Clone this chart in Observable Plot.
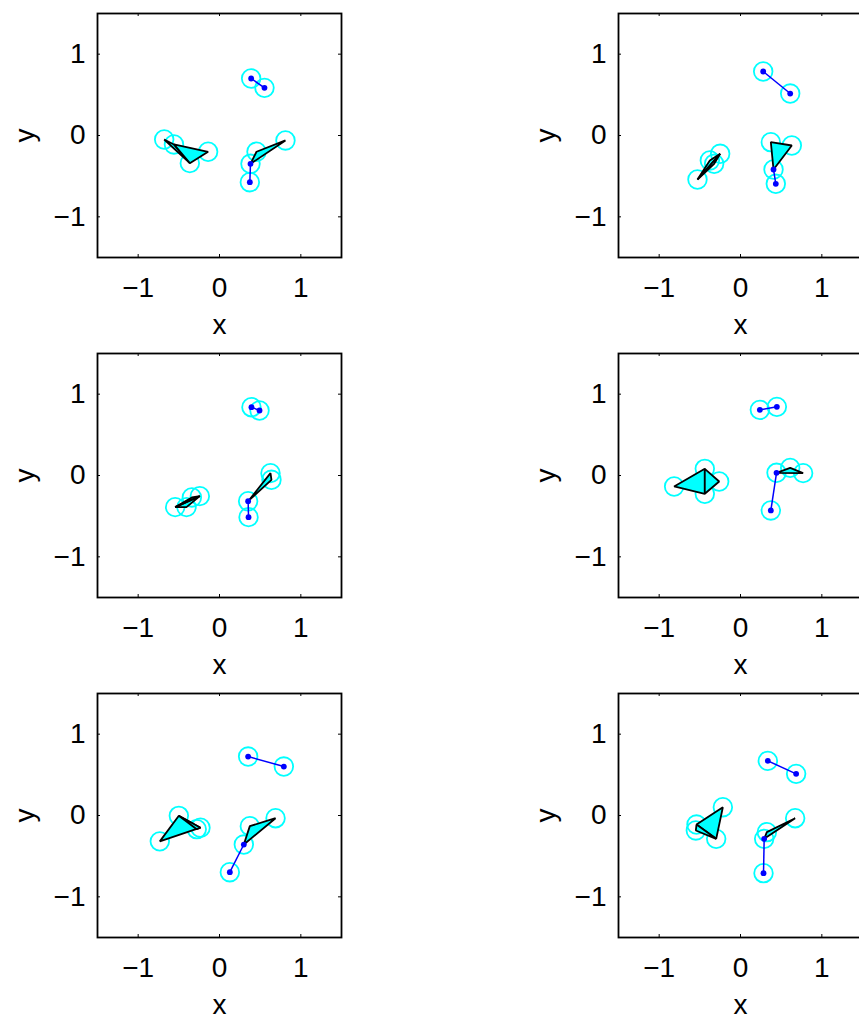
<!DOCTYPE html>
<html><head><meta charset="utf-8">
<script src="https://cdn.jsdelivr.net/npm/d3@7"></script>
<script src="https://cdn.jsdelivr.net/npm/@observablehq/plot@0.6"></script>
<style>
html,body{margin:0;padding:0;overflow:hidden;background:#fff;width:859px;height:1015px}
#root{position:relative;width:859px;height:1015px;overflow:hidden;background:#fff}
.panel{position:absolute}
.panel svg{max-width:none !important;display:block}
</style></head><body><div id="root"></div>
<script>
// ---- data ----
const panels = [1, 2, 3, 4, 5, 6];
const tickValues = [-1, 0, 1];
const axisLabels = {x: "x", y: "y"};

// [panel, id, x, y]  (each point has a cyan circle)
const points = [
  [1,"a",0.389,0.701],[1,"b",0.553,0.586],[1,"c",0.381,-0.348],[1,"d",0.373,-0.574],
  [1,"e",0.455,-0.200],[1,"f",0.811,-0.061],[1,"g",-0.680,-0.049],[1,"h",-0.560,-0.110],
  [1,"i",-0.365,-0.340],[1,"j",-0.140,-0.200],

  [2,"a",0.279,0.787],[2,"b",0.611,0.516],[2,"c",0.406,-0.418],[2,"d",0.434,-0.594],
  [2,"e",0.373,-0.082],[2,"f",0.631,-0.123],[2,"g",-0.529,-0.541],[2,"h",-0.377,-0.307],
  [2,"i",-0.324,-0.348],[2,"j",-0.250,-0.225],

  [3,"a",0.393,0.840],[3,"b",0.492,0.799],[3,"c",0.352,-0.316],[3,"d",0.357,-0.512],
  [3,"e",0.627,0.029],[3,"f",0.639,-0.053],[3,"g",-0.545,-0.389],[3,"h",-0.406,-0.389],
  [3,"i",-0.340,-0.270],[3,"j",-0.242,-0.254],

  [4,"a",0.238,0.807],[4,"b",0.447,0.844],[4,"c",0.443,0.033],[4,"d",0.373,-0.430],
  [4,"e",0.611,0.094],[4,"f",0.770,0.029],[4,"g",-0.816,-0.135],[4,"h",-0.439,0.082],
  [4,"i",-0.262,-0.074],[4,"j",-0.439,-0.225],

  [5,"a",0.352,0.725],[5,"b",0.791,0.602],[5,"c",0.299,-0.357],[5,"d",0.127,-0.697],
  [5,"e",0.373,-0.131],[5,"f",0.689,-0.033],[5,"g",-0.734,-0.318],[5,"h",-0.500,-0.004],
  [5,"i",-0.234,-0.150],[5,"j",-0.280,-0.168],

  [6,"a",0.336,0.672],[6,"b",0.684,0.512],[6,"c",0.291,-0.287],[6,"d",0.283,-0.709],
  [6,"e",0.324,-0.205],[6,"f",0.672,-0.033],[6,"g",-0.541,-0.111],[6,"h",-0.217,0.102],
  [6,"i",-0.299,-0.287],[6,"j",-0.549,-0.184]
];

// blue links [panel, from, to]
const links = [
  [1,"a","b"],[1,"c","d"],
  [2,"a","b"],[2,"c","d"],
  [3,"a","b"],[3,"c","d"],
  [4,"a","b"],[4,"c","d"],
  [5,"a","b"],[5,"c","d"],
  [6,"a","b"],[6,"c","d"]
];

// filled triangles [panel, v1, v2, v3]
const faces = [
  [1,"c","e","f"],[1,"g","h","i"],[1,"h","j","i"],
  [2,"c","e","f"],[2,"g","h","j"],[2,"g","i","j"],
  [3,"c","e","f"],[3,"g","h","j"],[3,"g","j","i"],
  [4,"c","e","f"],[4,"g","h","j"],[4,"h","i","j"],
  [5,"c","e","f"],[5,"g","h","i"],[5,"h","j","i"],
  [6,"c","e","f"],[6,"g","h","i"],[6,"g","i","j"]
];

// ---- layout ----
const FRAME = 244, ML = 97, MT = 13, MR = 24, MB = 83;
const colLeft = [97, 618], rowTop = [13, 353, 693];
const root = document.getElementById("root");
const fmt = d3.format("d");

for (const p of panels) {
  const idx = p - 1, col = idx % 2, row = Math.floor(idx / 2);
  const pts = points.filter(d => d[0] === p).map(([, id, x, y]) => ({id, x, y}));
  const byId = new Map(pts.map(d => [d.id, d]));
  const pl = links.filter(d => d[0] === p);
  const segs = pl.map(([, s, t]) => ({x1: byId.get(s).x, y1: byId.get(s).y, x2: byId.get(t).x, y2: byId.get(t).y}));
  const dotIds = new Set(pl.flatMap(d => [d[1], d[2]]));
  const dots = pts.filter(d => dotIds.has(d.id));
  const poly = faces.filter(d => d[0] === p)
    .flatMap(([, ...ids], k) => ids.map(id => ({face: k, x: byId.get(id).x, y: byId.get(id).y})));

  const chart = Plot.plot({
    width: ML + FRAME + MR,
    height: MT + FRAME + MB,
    marginLeft: ML, marginRight: MR, marginTop: MT, marginBottom: MB,
    style: {fontFamily: "'Liberation Sans', Arial, Helvetica, sans-serif", fontSize: "28px", background: "transparent", color: "black", overflow: "visible"},
    x: {domain: [-1.5, 1.5]},
    y: {domain: [-1.5, 1.5]},
    marks: [
      Plot.dot(pts, {x: "x", y: "y", r: 9.3, stroke: "#00ffff", strokeWidth: 1.8, fill: "none"}),
      Plot.line(poly, {x: "x", y: "y", z: "face", curve: "linear-closed", fill: "#00ffff", stroke: "black", strokeWidth: 1.8, strokeLinejoin: "miter"}),
      Plot.link(segs, {x1: "x1", y1: "y1", x2: "x2", y2: "y2", stroke: "#0000ff", strokeWidth: 1.5}),
      Plot.dot(dots, {x: "x", y: "y", r: 2.9, fill: "#0000ff", stroke: "none"}),
      // inward tick marks on all four sides
      Plot.tickX(tickValues, {x: d => d, insetTop: FRAME - 3, stroke: "black", strokeWidth: 1}),
      Plot.tickX(tickValues, {x: d => d, insetBottom: FRAME - 3, stroke: "black", strokeWidth: 1}),
      Plot.tickY(tickValues, {y: d => d, insetRight: FRAME - 3, stroke: "black", strokeWidth: 1}),
      Plot.tickY(tickValues, {y: d => d, insetLeft: FRAME - 3, stroke: "black", strokeWidth: 1}),
      Plot.axisX({ticks: tickValues, tickFormat: fmt, tickSize: 0, tickPadding: 20, label: null}),
      Plot.axisY({ticks: tickValues, tickFormat: fmt, tickSize: 0, tickPadding: 12, label: null}),
      Plot.text([axisLabels.x], {frameAnchor: "bottom", dy: 68, lineAnchor: "middle", textAnchor: "middle"}),
      Plot.text([axisLabels.y], {frameAnchor: "left", dx: -72, rotate: -90, lineAnchor: "middle", textAnchor: "middle"}),
      Plot.frame({stroke: "black", strokeWidth: 1.8})
    ]
  });
  const div = document.createElement("div");
  div.className = "panel";
  div.style.left = (colLeft[col] - ML) + "px";
  div.style.top = (rowTop[row] - MT) + "px";
  div.style.width = (ML + FRAME + MR) + "px";
  div.append(chart);
  root.append(div);
}
</script></body></html>
